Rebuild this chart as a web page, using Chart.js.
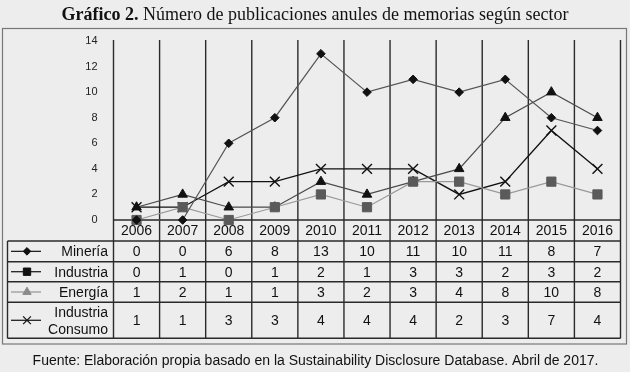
<!DOCTYPE html>
<html>
<head>
<meta charset="utf-8">
<script src="https://cdn.jsdelivr.net/npm/chart.js@4"></script>
<style>
  html,body{margin:0;padding:0;background:#ededed;}
  #wrap{width:630px;height:372px;position:relative;}
</style>
</head>
<body>
<div id="wrap"><canvas id="c" width="630" height="372"></canvas></div>
<script>
const years = ['2006','2007','2008','2009','2010','2011','2012','2013','2014','2015','2016'];
const mineria   = [0, 0, 6, 8, 13, 10, 11, 10, 11, 8, 7];
const industria = [0, 1, 0, 1, 2, 1, 3, 3, 2, 3, 2];
const energia   = [1, 2, 1, 1, 3, 2, 3, 4, 8, 10, 8];
const consumo   = [1, 1, 3, 3, 4, 4, 4, 2, 3, 7, 4];
const seriesNames = ['Minería', 'Industria', 'Energía', 'Industria\nConsumo'];
const yTicks = [0, 2, 4, 6, 8, 10, 12, 14];

const titleBold = 'Gráfico 2.';
const titleRest = ' Número de publicaciones anules de memorias según sector';
const footer = 'Fuente: Elaboración propia basado en la Sustainability Disclosure Database. Abril de 2017.';

const SANS = '"Liberation Sans", Arial, sans-serif';
const SERIF = '"Liberation Serif", "DejaVu Serif", serif';

// legend swatch styles (as printed in the table)
const legendStyles = [
  {pointStyle:'rectRot', radius:3.8, color:'#111', line:'#222', borderWidth:1},
  {pointStyle:'rect', radius:5.2, color:'#111', line:'#222', borderWidth:1},
  {pointStyle:'triangle', radius:4.8, color:'#8a8a8a', line:'#999', borderWidth:1},
  {pointStyle:'crossRot', radius:5.5, color:'#111', line:'#222', borderWidth:1.2}
];
const seriesData = [mineria, industria, energia, consumo];

const tablePlugin = {
  id: 'tablePlugin',
  beforeDraw(chart) {
    const ctx = chart.ctx;
    ctx.save();
    ctx.fillStyle = '#ededed';
    ctx.fillRect(0, 0, chart.width, chart.height);
    ctx.fillStyle = '#111';
    ctx.textBaseline = 'alphabetic';
    ctx.font = 'bold 18px ' + SERIF;
    const wb = ctx.measureText(titleBold).width;
    ctx.font = '18px ' + SERIF;
    const wr = ctx.measureText(titleRest).width;
    let tx = 315 - (wb + wr) / 2;
    ctx.font = 'bold 18px ' + SERIF;
    ctx.fillText(titleBold, tx, 19.5);
    ctx.font = '18px ' + SERIF;
    ctx.fillText(titleRest, tx + wb, 19.5);
    ctx.strokeStyle = '#777';
    ctx.lineWidth = 1.2;
    ctx.strokeRect(2.5, 28.5, 624, 315.5);
    ctx.font = '14px ' + SANS;
    ctx.textAlign = 'center';
    ctx.textBaseline = 'middle';
    ctx.fillText(footer, 315.5, 361.5);
    ctx.restore();
  },
  beforeDatasetsDraw(chart) {
    const ctx = chart.ctx;
    const xs = chart.scales.x;
    const ys = chart.scales.y;
    const n = years.length;
    const step = xs.getPixelForValue(1) - xs.getPixelForValue(0);
    const bounds = [];
    for (let i = 0; i < n; i++) bounds.push(xs.getPixelForValue(i) - step / 2);
    bounds.push(xs.getPixelForValue(n - 1) + step / 2);
    const left = bounds[0], right = bounds[n];
    const axisY = ys.getPixelForValue(0);
    const gridTop = ys.getPixelForValue(ys.max) - 1;
    const rowTops = [axisY + 21, 261.7, 281.7, 302.3];
    const tableBottom = 338.3;
    const tableLeft = 7.5;

    ctx.save();
    ctx.strokeStyle = '#2a2a2a';
    ctx.lineWidth = 1.4;
    bounds.forEach(b => {
      ctx.beginPath(); ctx.moveTo(b, gridTop); ctx.lineTo(b, tableBottom); ctx.stroke();
    });
    ctx.beginPath(); ctx.moveTo(left, axisY); ctx.lineTo(right, axisY); ctx.stroke();
    [...rowTops, tableBottom].forEach(y => {
      ctx.beginPath(); ctx.moveTo(tableLeft, y); ctx.lineTo(right, y); ctx.stroke();
    });
    ctx.beginPath(); ctx.moveTo(tableLeft, rowTops[0]); ctx.lineTo(tableLeft, tableBottom); ctx.stroke();

    ctx.fillStyle = '#111';
    ctx.font = '14px ' + SANS;
    ctx.textAlign = 'center';
    ctx.textBaseline = 'middle';
    years.forEach((y, i) => ctx.fillText(y, xs.getPixelForValue(i), (axisY + rowTops[0]) / 2 + 1));

    const rowBottoms = [rowTops[1], rowTops[2], rowTops[3], tableBottom];
    seriesData.forEach((arr, r) => {
      const cy = (rowTops[r] + rowBottoms[r]) / 2 + 1;
      ctx.textAlign = 'center';
      ctx.font = '14px ' + SANS;
      ctx.fillStyle = '#111';
      arr.forEach((v, i) => ctx.fillText(String(v), xs.getPixelForValue(i), cy));
      ctx.textAlign = 'right';
      const lines = seriesNames[r].split('\n');
      const lh = 17;
      lines.forEach((t, k) => ctx.fillText(t, 108, cy + (k - (lines.length - 1) / 2) * lh));
      const st = legendStyles[r];
      ctx.strokeStyle = st.line;
      ctx.lineWidth = 1.3;
      ctx.beginPath(); ctx.moveTo(11, cy - 1); ctx.lineTo(41, cy - 1); ctx.stroke();
      ctx.fillStyle = st.color;
      ctx.strokeStyle = st.color;
      ctx.lineWidth = st.borderWidth;
      Chart.helpers.drawPoint(ctx, {
        pointStyle: st.pointStyle, radius: st.radius, rotation: 0,
        borderWidth: st.borderWidth
      }, 27, cy - 1);
      ctx.fillStyle = '#111';
    });
    ctx.restore();
  }
};

new Chart(document.getElementById('c'), {
  type: 'line',
  data: {
    labels: years,
    datasets: [
      {label: 'Minería', data: mineria, borderColor: '#555', borderWidth: 1.2,
       pointStyle: 'rectRot', pointRadius: 4.3, pointBackgroundColor: '#111', pointBorderColor: '#111', pointBorderWidth: 1, clip: false},
      {label: 'Industria', data: industria, borderColor: '#999', borderWidth: 1.2,
       pointStyle: 'rect', pointRadius: 6.5, pointBackgroundColor: '#5a5a5a', pointBorderColor: '#5a5a5a', pointBorderWidth: 1, clip: false},
      {label: 'Energía', data: energia, borderColor: '#4a4a4a', borderWidth: 1.2,
       pointStyle: 'triangle', pointRadius: 5.5, pointBackgroundColor: '#111', pointBorderColor: '#111', pointBorderWidth: 1, clip: false},
      {label: 'Industria Consumo', data: consumo, borderColor: '#111', borderWidth: 1.3,
       pointStyle: 'crossRot', pointRadius: 7, pointBackgroundColor: '#111', pointBorderColor: '#111', pointBorderWidth: 1.4, clip: false}
    ]
  },
  options: {
    responsive: false,
    animation: false,
    devicePixelRatio: 1,
    layout: {padding: {left: 0, right: 9.5, top: 41, bottom: 152}},
    plugins: {legend: {display: false}, tooltip: {enabled: false}, title: {display: false}},
    elements: {line: {tension: 0}},
    scales: {
      x: {type: 'category', offset: true, display: false},
      y: {
        min: 0, max: 14,
        afterFit(scale) { scale.width = 113.5; },
        afterBuildTicks(scale) { scale.ticks = yTicks.map(v => ({value: v})); },
        grid: {display: false, drawTicks: false},
        border: {display: false},
        ticks: {padding: 16, color: '#222', font: {family: SANS, size: 11}}
      }
    }
  },
  plugins: [tablePlugin]
});
</script>
</body>
</html>
